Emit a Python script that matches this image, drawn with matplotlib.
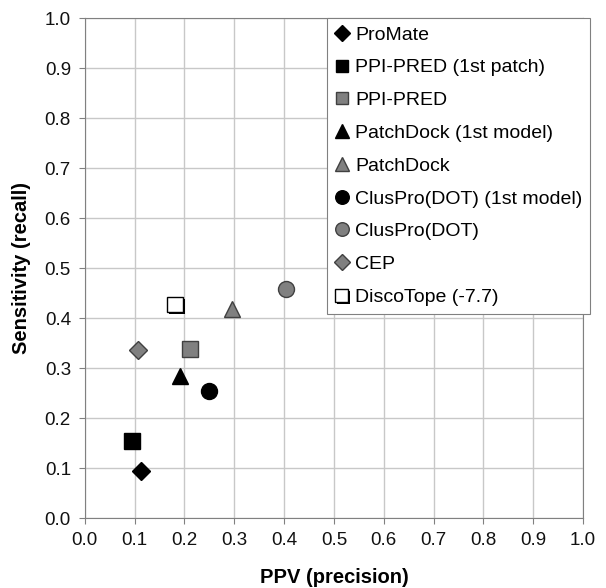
import matplotlib
matplotlib.use('Agg')
import matplotlib.pyplot as plt
import matplotlib.patheffects as pe

plt.rcParams['font.family'] = ['Liberation Sans', 'DejaVu Sans']

names = ['ProMate', 'PPI-PRED (1st patch)', 'PPI-PRED', 'PatchDock (1st model)',
         'PatchDock', 'ClusPro(DOT) (1st model)', 'ClusPro(DOT)', 'CEP',
         'DiscoTope (-7.7)']
ppv = [0.113, 0.095, 0.211, 0.191, 0.296, 0.249, 0.404, 0.107, 0.181]
sens = [0.095, 0.155, 0.339, 0.284, 0.418, 0.255, 0.458, 0.336, 0.427]
markers = ['D', 's', 's', '^', '^', 'o', 'o', 'D', 's']
faces = ['black', 'black', '#808080', 'black', '#808080', 'black', '#808080',
         '#808080', 'white']
sizes = [9, 11, 11, 11.5, 11.5, 11.5, 11.5, 9, 11]

fig = plt.figure(figsize=(6.06, 5.88), dpi=100)
ax = fig.add_axes([0.140, 0.119, 0.822, 0.850])

for i in range(len(names)):
    edge = 'black' if faces[i] in ('black', 'white') else '#404040'
    ln, = ax.plot(ppv[i], sens[i], linestyle='none', marker=markers[i],
                  markersize=sizes[i], markerfacecolor=faces[i],
                  markeredgecolor=edge, markeredgewidth=1,
                  label=names[i], zorder=3)
    if names[i].startswith('DiscoTope'):
        ln.set_path_effects([pe.SimplePatchShadow(offset=(1.5, -1.5),
                                                  shadow_rgbFace='black',
                                                  alpha=1.0),
                             pe.Normal()])

ax.set_xlim(0, 1)
ax.set_ylim(0, 1)
ticks = [i / 10 for i in range(11)]
ax.set_xticks(ticks)
ax.set_yticks(ticks)
ax.set_xticklabels(['%.1f' % t for t in ticks])
ax.set_yticklabels(['%.1f' % t for t in ticks])
ax.tick_params(labelsize=13.5, color='#808080', length=4, direction='out',
               pad=6, labelcolor='#111111')
ax.grid(True, color='#c8c8c8', linewidth=1)
ax.set_axisbelow(True)
for s in ax.spines.values():
    s.set_color('#808080')

ax.set_xlabel('PPV (precision)', fontsize=14.5, fontweight='bold', labelpad=14)
ax.set_ylabel('Sensitivity (recall)', fontsize=14.5, fontweight='bold', labelpad=10)

leg = ax.legend(loc='upper left', bbox_to_anchor=(0.486, 1.0), fontsize=14,
                frameon=True, fancybox=False, edgecolor='#808080',
                framealpha=1, borderaxespad=0, labelspacing=0.78,
                handlelength=0.7, handletextpad=0.35, markerscale=0.85,
                borderpad=0.4)
leg.get_frame().set_linewidth(0.8)
leg.set_zorder(5)

fig.savefig('out.png', dpi=100)
